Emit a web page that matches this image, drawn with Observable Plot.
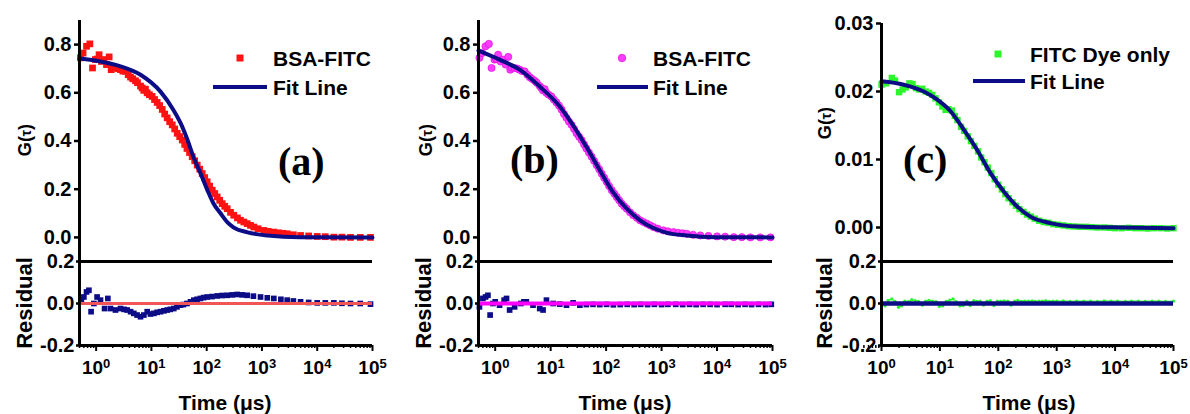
<!DOCTYPE html>
<html><head><meta charset="utf-8">
<script src="https://cdn.jsdelivr.net/npm/d3@7"></script>
<script src="https://cdn.jsdelivr.net/npm/@observablehq/plot@0.6"></script>
<style>
html,body{margin:0;padding:0;background:#fff;overflow:hidden;}
#wrap{position:relative;width:1190px;height:414px;}
#wrap svg{position:absolute;}
</style></head><body><div id="wrap"></div>
<script>
// ---------- DATA ----------
// BSA-FITC correlation data [time µs, G(τ)] — same data in panels (a) and (b)
const bsaData = [[0.52,0.745],[0.58,0.765],[0.67,0.793],[0.77,0.803],[0.86,0.703],[0.97,0.738],[1.05,0.74],[1.13,0.758],[1.25,0.73],[1.38,0.738],[1.54,0.717],[1.72,0.749],[1.87,0.696],[2.0,0.705],[2.24,0.703],[2.5,0.70],[2.76,0.696],[3.05,0.69],[3.4,0.689],[3.8,0.675],[4.19,0.665],[4.6,0.658],[5.15,0.65],[5.6,0.642],[6.35,0.628],[6.8,0.62],[7.28,0.61],[7.8,0.615],[8.37,0.60],[9.2,0.592],[10.3,0.585],[11.4,0.572],[12.7,0.56],[14.1,0.547],[15.7,0.531],[17.4,0.512],[19.3,0.496],[21.4,0.48],[23.8,0.467],[26.4,0.45],[29.3,0.432],[32.5,0.418],[36.1,0.404],[40,0.386],[44,0.369],[49,0.352],[54.7,0.335],[60.7,0.318],[67.4,0.300],[75,0.283],[83,0.265],[92,0.248],[102,0.231],[113,0.213],[126,0.196],[140,0.182],[155,0.168],[172,0.154],[191,0.140],[212,0.129],[235,0.119],[270,0.104],[309,0.092],[360,0.081],[409,0.071],[470,0.064],[541,0.057],[620,0.050],[713,0.043],[850,0.036],[1080,0.029],[1300,0.025],[1640,0.022],[2000,0.019],[2400,0.017],[2860,0.015],[3700,0.011],[5000,0.008],[7000,0.006],[10000,0.004],[14000,0.003],[20000,0.001],[28000,0.001],[40000,0.0],[60000,0.0],[92000,0.0]];
// Fit lines
const fitA = [[0.5,0.742],[1.2,0.730],[2.76,0.710],[6.35,0.675],[14.6,0.605],[25,0.529],[33.6,0.475],[45,0.404],[57.7,0.333],[77,0.267],[103,0.196],[132,0.142],[178,0.100],[238,0.0625],[305,0.042],[550,0.021],[1260,0.008],[5000,0.001],[100000,0.0]];
const fitB = [[0.5,0.775],[1.2,0.7375],[2.76,0.696],[6.35,0.626],[14.6,0.543],[25,0.467],[44,0.376],[77,0.279],[132,0.189],[235,0.119],[409,0.071],[713,0.039],[1260,0.019],[2860,0.008],[9500,0.001],[100000,0.0]];
// FITC dye only data and fit
const dyeData = [[1.0,0.0210],[1.2,0.0212],[1.5,0.0220],[1.7,0.0216],[2.0,0.0199],[2.3,0.0203],[2.6,0.0206],[3.0,0.0212],[3.4,0.0211],[3.9,0.0205],[4.4,0.0203],[5.0,0.0204],[5.7,0.0200],[6.5,0.0198],[7.4,0.0195],[8.4,0.0190],[9.6,0.0184],[11,0.0178],[12.5,0.0173],[14,0.0174],[16,0.0172],[18,0.0164],[20,0.0158],[23,0.0148],[26,0.0142],[30,0.0134],[34,0.0127],[39,0.0120],[45,0.0112],[51,0.0103],[58,0.0096],[66,0.0088],[76,0.0080],[87,0.0071],[100,0.0063],[115,0.0056],[132,0.0049],[150,0.0043],[175,0.0037],[200,0.0032],[230,0.0027],[270,0.0023],[310,0.0019],[360,0.0016],[420,0.0013],[500,0.0010],[600,0.0008],[720,0.0007],[870,0.0005],[1050,0.0004],[1300,0.0003],[1600,0.0002],[2000,0.00015],[2500,0.0001],[3200,0.0001],[4000,0.00005],[5000,0.0],[6500,0.0],[8000,-0.00005],[10000,-0.0001],[13000,-0.0001],[17000,-0.00005],[22000,-0.0001],[28000,-0.0001],[36000,-0.00015],[46000,-0.0001],[60000,-0.0001],[78000,-0.00015],[100000,-0.0001]];
const fitDye = [[1,0.0215],[2.4,0.0210],[5.3,0.0200],[9,0.0188],[15.2,0.0171],[25.6,0.0144],[43.5,0.0114],[73.5,0.0080],[124,0.0053],[210,0.0031],[355,0.0016],[780,0.00065],[2220,0.00015],[14000,0.0],[100000,-0.0001]];
// Residuals
const residA = [[0.54,0.016],[0.6,0.031],[0.67,0.055],[0.74,0.063],[0.81,-0.039],[0.91,0],[1.04,0.031],[1.2,0.016],[1.42,-0.024],[1.63,0.024],[1.82,-0.024],[2.24,-0.031],[2.76,-0.024],[3.2,-0.028],[3.64,-0.031],[4.2,-0.039],[4.81,-0.047],[5.5,-0.055],[6.35,-0.063],[7.3,-0.055],[8.4,-0.039],[9.6,-0.05],[11.1,-0.047],[12.7,-0.042],[14.6,-0.039],[16.8,-0.035],[19.3,-0.031],[22,-0.028],[25.4,-0.024],[29,-0.016],[33.6,-0.008],[38,-0.005],[44,0],[51,0.008],[58.5,0.016],[67,0.02],[77,0.024],[88,0.028],[102,0.031],[125,0.033],[155,0.036],[190,0.038],[235,0.039],[290,0.041],[357,0.043],[440,0.041],[541,0.039],[700,0.035],[942,0.031],[1250,0.027],[1640,0.024],[2200,0.02],[2860,0.016],[3700,0.012],[5000,0.008],[7000,0.005],[10000,0.003],[14000,0.003],[20000,0.003],[28000,0.001],[40000,0],[60000,0],[92000,-0.003]];
const residB = [[0.52,-0.016],[0.6,0.024],[0.67,0.031],[0.74,0.039],[0.81,-0.055],[0.91,0.0],[1.0,0.008],[1.2,-0.008],[1.45,0.016],[1.6,0.024],[1.82,-0.031],[2.24,-0.016],[2.9,0.0],[3.3,0.008],[3.64,0.008],[4.81,-0.008],[6.35,-0.024],[7.3,-0.031],[8.4,0.016],[11.1,0],[14.6,-0.003],[19.3,-0.008],[25.4,0.003],[33.6,-0.008],[44,-0.005],[58,-0.004],[77,-0.005],[102,-0.004],[135,-0.006],[180,-0.005],[240,-0.004],[320,-0.005],[420,-0.004],[560,-0.005],[740,-0.004],[1000,-0.005],[1300,-0.004],[1800,-0.004],[2400,-0.005],[3200,-0.004],[4200,-0.005],[5600,-0.004],[7500,-0.004],[10000,-0.005],[14000,-0.004],[18000,-0.004],[24000,-0.005],[32000,-0.004],[42000,-0.005],[56000,-0.004],[75000,-0.005],[95000,-0.004]];
const residDye = [[1.0,0.008],[1.15,-0.012],[1.3,0.015],[1.5,0.022],[1.7,0.010],[1.95,-0.018],[2.2,-0.012],[2.5,0.012],[2.9,0.009],[3.3,0.018],[3.8,0.014],[4.3,0.010],[5,-0.008],[5.7,0.012],[6.5,0.015],[7.5,0.011],[8.6,0.009],[9.8,-0.014],[11.2,-0.012],[12.8,0.010],[14.7,0.016],[16.8,0.022],[19.2,0.008],[22,-0.012],[25,-0.010],[29,0.012],[33,-0.010],[38,0.014],[43,0.010],[49,0.012],[56,-0.008],[64,0.011],[73,0.014],[84,-0.010],[96,0.012],[110,0.010],[125,0.013],[145,0.011],[165,-0.008],[190,0.012],[215,0.015],[250,0.010],[285,0.012],[330,0.011],[380,0.013],[430,0.010],[500,0.012],[570,0.011],[650,0.014],[750,0.010],[860,0.012],[1000,0.011],[1300,0.013],[1700,0.010],[2200,0.012],[2900,0.011],[3800,0.012],[5000,0.010],[6500,0.013],[8500,0.011],[11000,0.012],[15000,0.010],[19000,0.011],[25000,0.012],[33000,0.010],[43000,0.011],[56000,0.012],[73000,0.010],[100000,0.011]];
// Ticks
const yTicksBSA = [0, 0.2, 0.4, 0.6, 0.8];
const yTicksDye = [0, 0.01, 0.02, 0.03];
const residTicks = [-0.2, 0, 0.2];
const xDecades = [1, 10, 100, 1000, 10000, 100000];
const legendLabels = [["BSA-FITC", "Fit Line"], ["BSA-FITC", "Fit Line"], ["FITC Dye only", "Fit Line"]];
const panelLetters = ["(a)", "(b)", "(c)"];

// ---------- STYLE / LAYOUT ----------
const FONT = "'Liberation Sans', Arial, Helvetica, sans-serif";
const NAVY = "#0c0c86";
const minorTicks = xDecades.flatMap(d => [2,3,4,5,6,7,8,9].map(k => k * d / 10)).filter(v => v >= 0.5 && v < 1e5);

const panels = [
  {left: 0, width: 395, mL: 79, mR: 23, mT: 20, xDomain: [0.5, 1e5], yDomain: [-0.1, 0.9], yTicks: yTicksBSA, yDigits: 1,
   data: bsaData, sym: "square", color: "#ff1212", r: 3.8, fit: fitA, resid: residA, residKind: "square", zeroColor: "#f25555", zeroWidth: 3.2},
  {left: 400, width: 395, mL: 78, mR: 23, mT: 20, xDomain: [0.5, 1e5], yDomain: [-0.1, 0.9], yTicks: yTicksBSA, yDigits: 1,
   data: bsaData, sym: "circle", color: "#ff3cff", r: 3.6, fit: fitB, resid: residB, residKind: "square", zeroColor: "#ff00ff", zeroWidth: 4},
  {left: 800, width: 390, mL: 81, mR: 17, mT: 23, xDomain: [1, 1e5], yDomain: [-0.005, 0.03], yTicks: yTicksDye, yDigits: 2,
   data: dyeData, sym: "square", color: "#2cf52c", r: 3.6, fit: fitDye, resid: residDye, residKind: "green", zeroColor: NAVY, zeroWidth: 4.5}
];

const wrap = document.getElementById("wrap");
const baseStyle = {background: "none", overflow: "visible", fontFamily: FONT, color: "black"};

function supTicks(svg) {
  svg.querySelectorAll('g[aria-label="x-axis tick label"] text').forEach(t => {
    const s = t.textContent;
    if (!s.includes("^")) return;
    const [b, e] = s.split("^");
    t.textContent = b;
    const ts = document.createElementNS("http://www.w3.org/2000/svg", "tspan");
    ts.setAttribute("dy", "-0.5em");
    ts.setAttribute("font-size", "13");
    ts.textContent = e;
    t.appendChild(ts);
  });
}

panels.forEach(p => {
  const dataMark = p.sym === "circle"
    ? Plot.dot(p.data, {x: d => d[0], y: d => d[1], r: p.r, fill: p.color, stroke: "#dd00dd", strokeWidth: 0.6})
    : Plot.dot(p.data, {x: d => d[0], y: d => d[1], symbol: "square", r: p.r, fill: p.color});
  const top = Plot.plot({
    width: p.width, height: 261, marginLeft: p.mL, marginRight: p.mR, marginTop: p.mT, marginBottom: 0,
    x: {type: "log", domain: p.xDomain, axis: null},
    y: {domain: p.yDomain},
    style: baseStyle,
    marks: [
      dataMark,
      Plot.line(p.fit, {x: d => d[0], y: d => d[1], stroke: NAVY, strokeWidth: 4, curve: "monotone-x"}),
      Plot.ruleX([p.xDomain[0]], {y1: p.yDomain[0], y2: p.yDomain[1], stroke: "black", strokeWidth: 3}),
      Plot.axisY(p.yTicks, {tickSize: 5, tickPadding: 3, strokeWidth: 2.5, tickFormat: d => d.toFixed(p.yDigits),
        fontSize: 20, fontWeight: "bold", label: null})
    ]
  });
  top.style.left = p.left + "px";
  top.style.top = "0px";
  wrap.appendChild(top);

  const residMarks = p.residKind === "green"
    ? [Plot.line(p.resid, {x: d => d[0], y: d => d[1], stroke: "#2cf52c", strokeWidth: 1.2}),
       Plot.dot(p.resid, {x: d => d[0], y: d => d[1], r: 1.6, fill: "#2cf52c"})]
    : [Plot.dot(p.resid, {x: d => d[0], y: d => d[1], symbol: "square", r: 3.2, fill: NAVY})];

  const bot = Plot.plot({
    width: p.width, height: 159, marginLeft: p.mL, marginRight: p.mR, marginTop: 6, marginBottom: 69,
    x: {type: "log", domain: p.xDomain},
    y: {domain: [-0.2, 0.2]},
    style: baseStyle,
    marks: [
      ...residMarks,
      Plot.ruleY([0], {stroke: p.zeroColor, strokeWidth: p.zeroWidth}),
      Plot.ruleY([0.2], {stroke: "black", strokeWidth: 3}),
      Plot.ruleY([-0.2], {stroke: "black", strokeWidth: 3}),
      Plot.ruleX([p.xDomain[0]], {y1: -0.2, y2: 0.2, stroke: "black", strokeWidth: 3}),
      Plot.axisY(residTicks, {tickSize: 3, tickPadding: 2, strokeWidth: 2.5, tickFormat: d => d.toFixed(1),
        fontSize: 20, fontWeight: "bold", label: null}),
      Plot.axisX(xDecades, {tickSize: 6, tickPadding: 9, strokeWidth: 2, tickFormat: d => "10^" + Math.round(Math.log10(d)),
        fontSize: 19, fontWeight: "bold", label: null}),
      Plot.axisX(minorTicks, {tickSize: 3, strokeWidth: 1.5, tickFormat: () => "", label: null})
    ]
  });
  supTicks(bot);
  bot.style.left = p.left + "px";
  bot.style.top = "255px";
  wrap.appendChild(bot);
});

// ---------- overlay: axis titles, legends, panel letters ----------
const ov = d3.create("svg").attr("width", 1190).attr("height", 414)
  .style("left", "0px").style("top", "0px").style("pointer-events", "none")
  .attr("font-family", FONT).attr("font-weight", "bold");

const layout = [
  {gX: 31, gY: 140, rX: 32, timeX: 225, sym: {x: 240, y: 58}, lineX: [213, 267], lineY: 87, textX: 273, t1Y: 66, t2Y: 95, letter: {x: 278, y: 175}},
  {gX: 432, gY: 140, rX: 431, timeX: 625, sym: {x: 622, y: 58}, lineX: [597, 648], lineY: 87, textX: 653, t1Y: 66, t2Y: 95, letter: {x: 510, y: 173}},
  {gX: 831, gY: 123, rX: 832, timeX: 1029, sym: {x: 998, y: 54}, lineX: [973, 1025], lineY: 81, textX: 1030, t1Y: 62, t2Y: 89, letter: {x: 903, y: 173}}
];

layout.forEach((L, i) => {
  const p = panels[i];
  const g = ov.append("text").attr("transform", `translate(${L.gX},${L.gY}) rotate(-90)`)
    .attr("text-anchor", "middle").attr("font-size", 18);
  g.append("tspan").text("G(");
  g.append("tspan").attr("font-size", 14).text("τ");
  g.append("tspan").text(")");
  ov.append("text").attr("transform", `translate(${L.rX},303) rotate(-90)`)
    .attr("text-anchor", "middle").attr("font-size", 22).text("Residual");
  ov.append("text").attr("x", L.timeX).attr("y", 410).attr("text-anchor", "middle").attr("font-size", 21).text("Time (μs)");
  if (p.sym === "circle") {
    ov.append("circle").attr("cx", L.sym.x).attr("cy", L.sym.y).attr("r", 3.8).attr("fill", p.color).attr("stroke", "#dd00dd").attr("stroke-width", 0.6);
  } else {
    ov.append("rect").attr("x", L.sym.x - 3.5).attr("y", L.sym.y - 3.5).attr("width", 7).attr("height", 7).attr("fill", p.color);
  }
  ov.append("text").attr("x", L.textX).attr("y", L.t1Y).attr("font-size", 21).text(legendLabels[i][0]);
  ov.append("line").attr("x1", L.lineX[0]).attr("x2", L.lineX[1]).attr("y1", L.lineY).attr("y2", L.lineY)
    .attr("stroke", NAVY).attr("stroke-width", 4);
  ov.append("text").attr("x", L.textX).attr("y", L.t2Y).attr("font-size", 21).text(legendLabels[i][1]);
  ov.append("text").attr("x", L.letter.x).attr("y", L.letter.y).attr("font-size", 40)
    .attr("font-family", "'Liberation Serif', 'Times New Roman', serif").text(panelLetters[i]);
});
wrap.appendChild(ov.node());
</script>
</body></html>
